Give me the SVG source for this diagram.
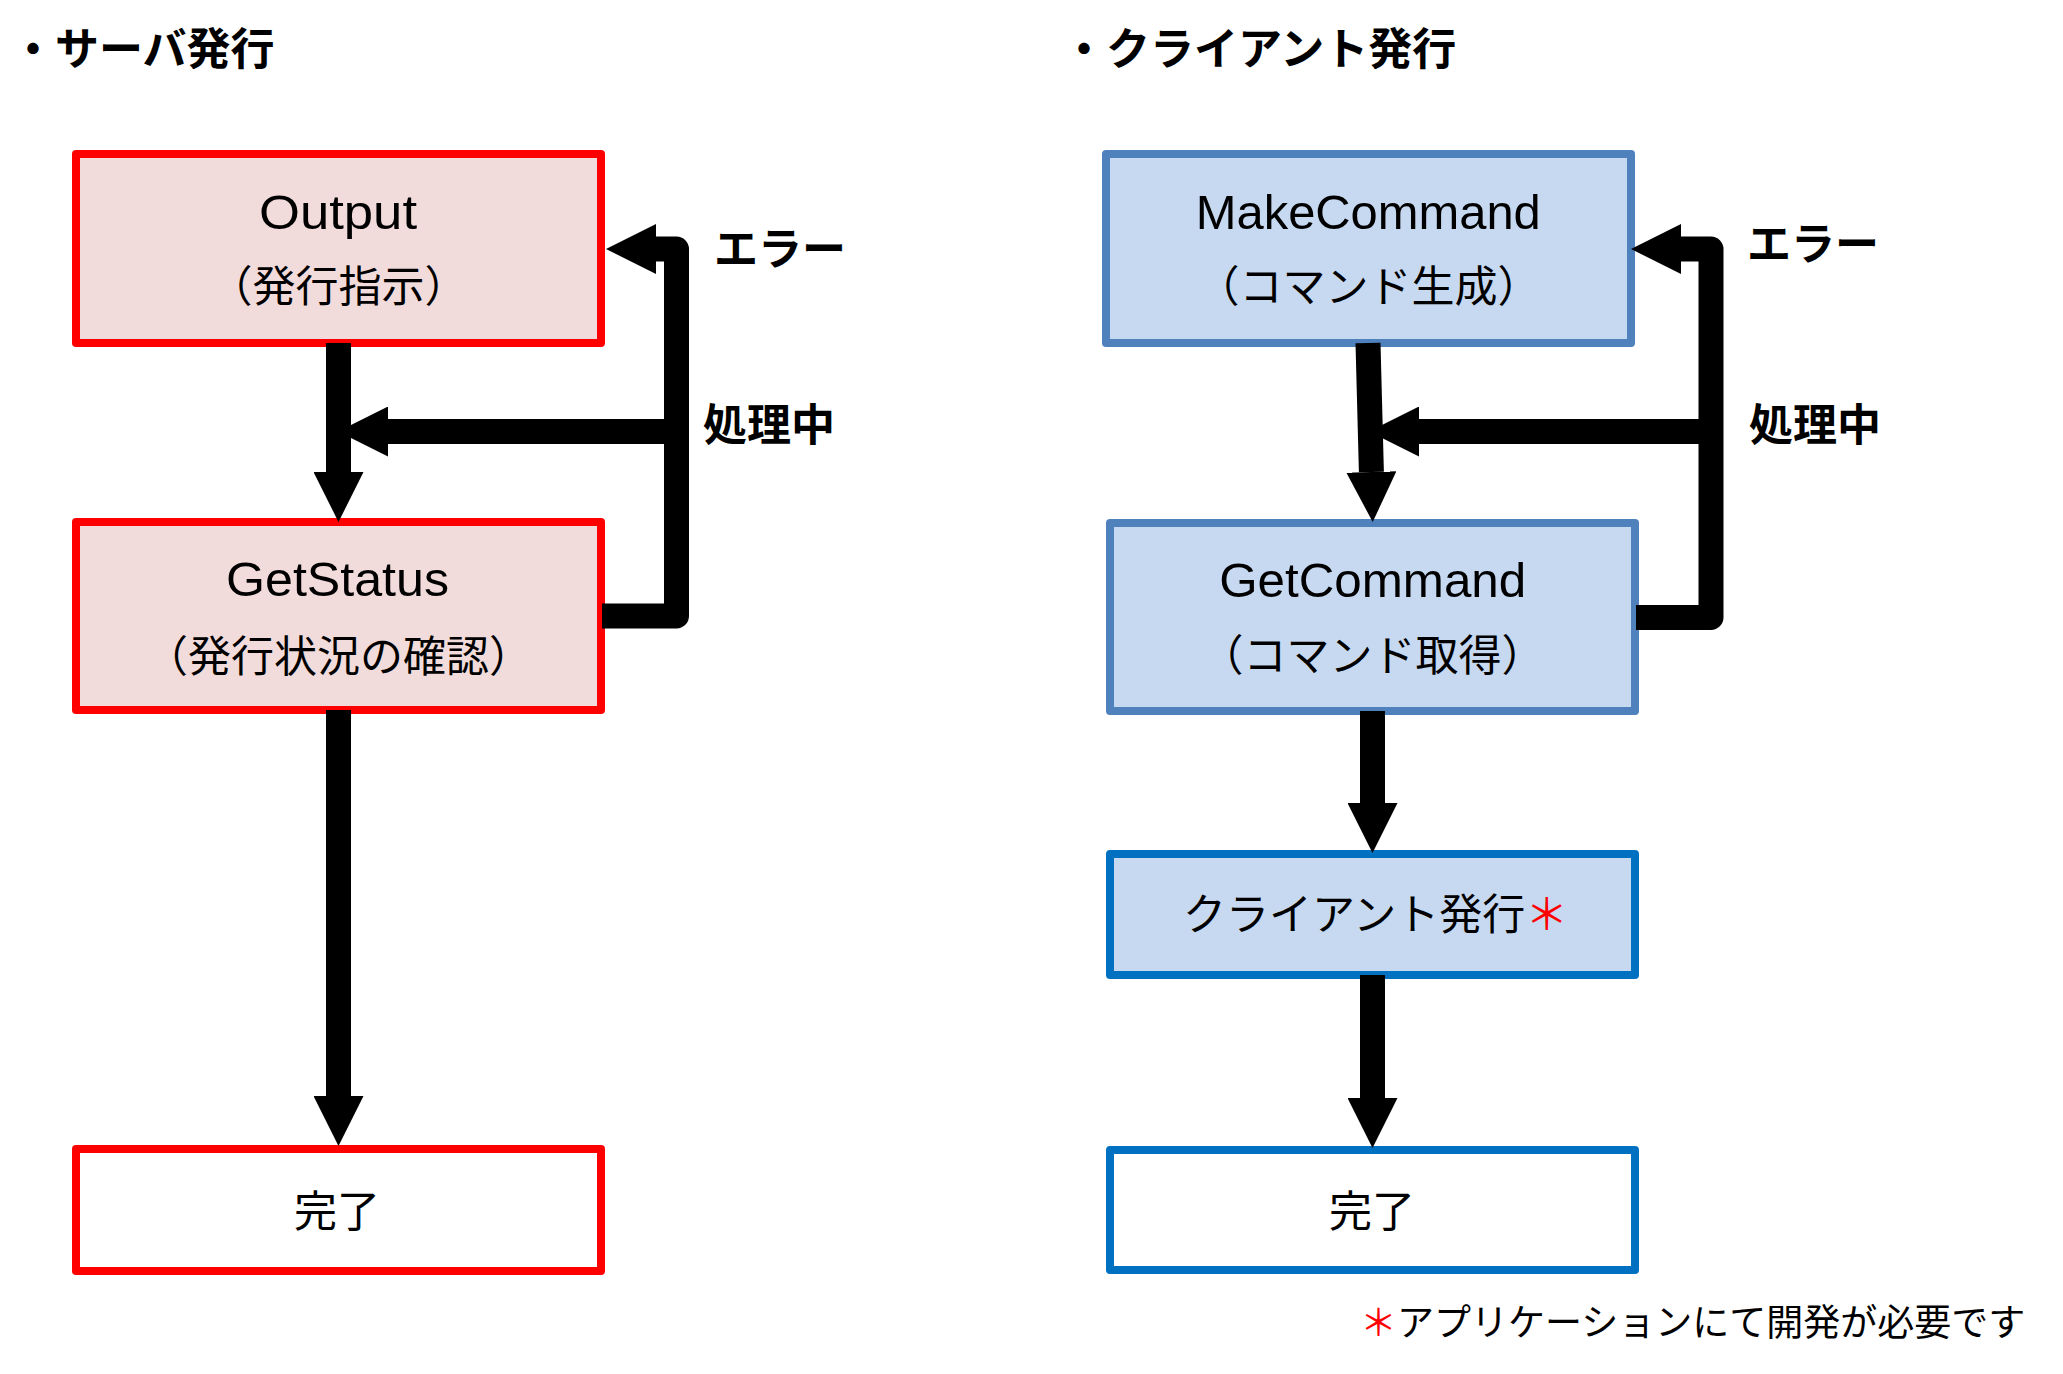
<svg xmlns="http://www.w3.org/2000/svg" width="2063" height="1374" viewBox="0 0 2063 1374">
<style>
.bg{fill:#fff}
.box{stroke-width:8;stroke-linejoin:round}
.red{fill:#F2DCDB;stroke:#FF0000}
.redw{fill:#FFFFFF;stroke:#FF0000}
.blu{fill:#C6D9F1;stroke:#4F81BD}
.blu2{fill:#C6D9F1;stroke:#0070C0}
.bluw{fill:#FFFFFF;stroke:#0070C0}
.en{font-family:"Liberation Sans",Arial,sans-serif;font-size:48px;fill:#000;text-anchor:middle}
.jp{font-family:"Noto Sans CJK JP","Noto Sans CJK SC",sans-serif;font-size:43px;fill:#000}
.mid{text-anchor:middle}
.lbl{font-family:"Noto Sans CJK JP",sans-serif;font-size:44px;font-weight:700;fill:#000}
.title{font-family:"Noto Sans CJK JP",sans-serif;font-size:44px;font-weight:700;fill:#000}
.note{font-family:"Noto Sans CJK JP",sans-serif;font-size:37px;fill:#000}
.ast{fill:#FF0000}
.conn{fill:none;stroke:#000;stroke-width:25;stroke-linejoin:round;marker-end:url(#ah)}
</style>
<defs>
<marker id="ah" markerUnits="strokeWidth" viewBox="0 0 2 2" markerWidth="2" markerHeight="2" refX="0" refY="1" orient="auto">
<path d="M0,0 L2,1 L0,2 Z" fill="#000"/>
</marker>
</defs>
<rect class="bg" x="0" y="0" width="2063" height="1374"/>

<g id="title-server"><text class="title" x="11" y="65">・サーバ発行</text></g>
<g id="title-client"><text class="title" x="1062" y="65">・クライアント発行</text></g>

<g id="node-output">
<rect class="box red" x="76" y="154" width="525" height="189"/>
<text class="en" x="338" y="229" textLength="158" lengthAdjust="spacingAndGlyphs">Output</text>
<text class="jp mid" x="338.5" y="302">（発行指示）</text>
</g>
<g id="node-getstatus">
<rect class="box red" x="76" y="522" width="525" height="188"/>
<text class="en" x="337.5" y="596" textLength="223" lengthAdjust="spacingAndGlyphs">GetStatus</text>
<text class="jp mid" x="338.5" y="672">（発行状況の確認）</text>
</g>
<g id="node-done-server">
<rect class="box redw" x="76" y="1149" width="525" height="122"/>
<text class="jp mid" x="337" y="1227">完了</text>
</g>

<g id="node-makecommand">
<rect class="box blu" x="1106" y="154" width="525" height="189"/>
<text class="en" x="1368.3" y="229" textLength="345" lengthAdjust="spacingAndGlyphs">MakeCommand</text>
<text class="jp mid" x="1368.5" y="302">（コマンド生成）</text>
</g>
<g id="node-getcommand">
<rect class="box blu" x="1110" y="523" width="525" height="188"/>
<text class="en" x="1372.7" y="597" textLength="307" lengthAdjust="spacingAndGlyphs">GetCommand</text>
<text class="jp mid" x="1372.5" y="671">（コマンド取得）</text>
</g>
<g id="node-client-issue">
<rect class="box blu2" x="1110" y="854" width="525" height="121"/>
<text class="jp" x="1183" y="930">クライアント発行<tspan class="ast">＊</tspan></text>
</g>
<g id="node-done-client">
<rect class="box bluw" x="1110" y="1150" width="525" height="120"/>
<text class="jp mid" x="1372" y="1227">完了</text>
</g>

<g id="connectors">
<path class="conn" d="M338.5,343 V472"/>
<path class="conn" d="M676.5,431.5 H388"/>
<path class="conn" d="M602,616 H676.5 V249 H656"/>
<path class="conn" d="M338.5,710 V1096"/>
<path class="conn" d="M1368,343 L1371.4,472"/>
<path class="conn" d="M1711,431.5 H1419"/>
<path class="conn" d="M1636,617.5 H1711 V249 H1681"/>
<path class="conn" d="M1372.5,711 V803"/>
<path class="conn" d="M1372.5,975 V1098"/>
</g>

<g id="labels">
<text class="lbl" x="714" y="265">エラー</text>
<text class="lbl" x="703" y="441">処理中</text>
<text class="lbl" x="1747" y="260">エラー</text>
<text class="lbl" x="1749" y="441">処理中</text>
</g>

<g id="footnote">
<text class="note" x="1360" y="1336"><tspan class="ast">＊</tspan>アプリケーションにて開発が必要です</text>
</g>
</svg>
